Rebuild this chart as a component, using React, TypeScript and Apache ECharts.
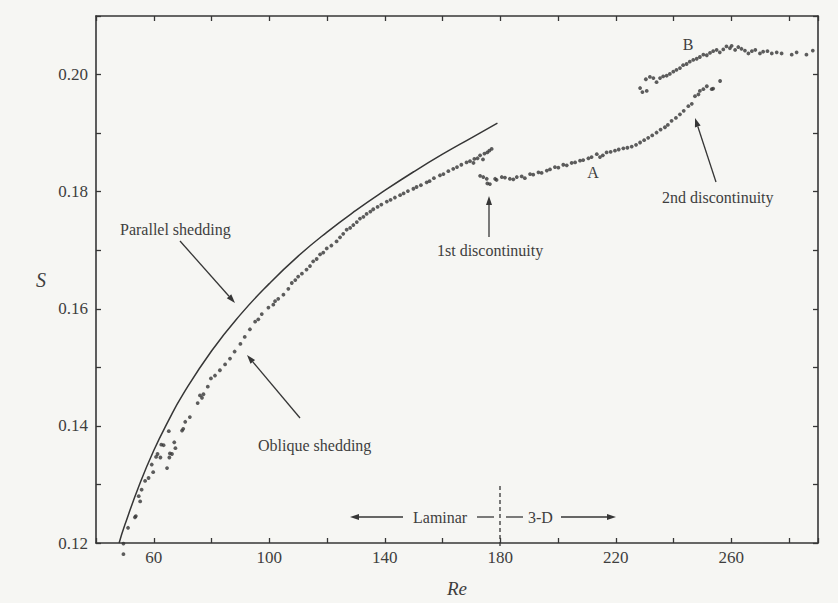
import React, { useEffect, useRef } from "react";
import * as echarts from "echarts";

// Parallel-shedding curve
const parallelCurve: [number, number][] = [
  [48, 0.12], [50, 0.1231], [55, 0.1299], [60, 0.1358], [65, 0.1408], [70, 0.1453],
  [80, 0.1528], [90, 0.159], [100, 0.1643], [110, 0.169], [120, 0.1731], [130, 0.1768],
  [140, 0.1802], [150, 0.1834], [160, 0.1864], [170, 0.1892], [179, 0.1917],
];

// Oblique shedding (laminar regime) measurements
const obliqueData: [number, number][] = [
  [49.5, 0.1199], [49.5, 0.1181], [51.1, 0.1226], [53.5, 0.1244], [53.8, 0.1246],
  [54.8, 0.128], [55.3, 0.1271], [55.8, 0.1291], [57.0, 0.1306], [58.2, 0.1311],
  [59.3, 0.1334], [59.8, 0.1321], [60.8, 0.1347], [61.3, 0.1352], [62.3, 0.1346],
  [62.6, 0.1368], [63.4, 0.1367], [64.6, 0.1328], [65.2, 0.1391], [65.4, 0.1346],
  [65.6, 0.1353], [66.3, 0.1352], [67.1, 0.1372], [67.5, 0.1362], [69.8, 0.1392],
  [70.2, 0.1395], [70.9, 0.1407], [72.5, 0.1415], [75.2, 0.1439], [76.0, 0.1452],
  [76.7, 0.1448], [77.2, 0.1454], [78.7, 0.1467], [79.8, 0.1481], [81.2, 0.1486],
  [82.9, 0.1495], [84.7, 0.1505], [86.4, 0.1515], [88.0, 0.1527], [90.0, 0.154],
  [91.5, 0.1552], [93.3, 0.1565], [95.1, 0.1578], [96.2, 0.1582], [97.4, 0.1591],
  [99.7, 0.1602], [101.4, 0.1607], [102.0, 0.1613], [103.1, 0.1617], [104.9, 0.1624],
  [106.6, 0.1634], [107.8, 0.1644], [109.0, 0.1649], [110.0, 0.1655], [111.3, 0.166],
  [112.9, 0.1667], [114.1, 0.1673], [115.2, 0.1681], [116.4, 0.1685], [117.6, 0.1693],
  [118.7, 0.1696], [119.9, 0.1703], [121.5, 0.1708], [123.3, 0.1715], [124.5, 0.1722],
  [125.6, 0.1728], [126.8, 0.1735], [128.0, 0.1738], [129.1, 0.1743], [130.3, 0.1748],
  [131.4, 0.1754], [132.6, 0.1757], [133.7, 0.1762], [135.0, 0.1766], [136.0, 0.177],
  [137.5, 0.1774], [138.8, 0.1778], [140.7, 0.1783], [142.0, 0.1786], [143.5, 0.179],
  [145.3, 0.1794], [146.5, 0.1797], [148.0, 0.1801], [149.9, 0.1805], [151.0, 0.1808],
  [152.5, 0.1811], [154.5, 0.1816], [155.5, 0.1818], [157.0, 0.1823], [159.1, 0.1828],
  [160.3, 0.183], [162.0, 0.1835], [163.7, 0.1839], [165.0, 0.1842], [166.5, 0.1846],
  [168.3, 0.185], [169.5, 0.1852], [170.7, 0.1849], [171.0, 0.1856], [172.1, 0.1857],
  [173.0, 0.1862], [174.0, 0.1855], [174.5, 0.1865], [175.5, 0.1867], [176.2, 0.187],
  [177.0, 0.1873],
];

// Three-dimensional regime, lower branch (mode A)
const modeAData: [number, number][] = [
  [173.0, 0.1827], [174.1, 0.1825], [175.3, 0.1822], [175.5, 0.1814], [176.4, 0.1813],
  [178.2, 0.1822], [178.7, 0.182], [180.5, 0.1825], [181.6, 0.1824], [183.3, 0.1822],
  [184.5, 0.1821], [185.7, 0.1825], [187.4, 0.1826], [188.5, 0.1823], [190.3, 0.183],
  [191.4, 0.1829], [193.2, 0.1833], [194.3, 0.1832], [196.1, 0.1836], [197.2, 0.1838],
  [198.9, 0.1842], [200.1, 0.1841], [201.8, 0.1846], [203.0, 0.1845], [204.7, 0.1849],
  [205.9, 0.185], [207.6, 0.1853], [208.7, 0.1854], [210.5, 0.1857], [211.6, 0.1859],
  [213.4, 0.1864], [214.5, 0.1859], [215.5, 0.1862], [216.8, 0.1867], [218.2, 0.1868],
  [219.7, 0.187], [221.0, 0.1872], [222.6, 0.1874], [224.0, 0.1875], [225.5, 0.1877],
  [227.0, 0.188], [228.4, 0.1884], [229.8, 0.1888], [231.2, 0.1892], [232.6, 0.1896],
  [234.1, 0.1901], [235.5, 0.1906], [237.0, 0.191], [238.0, 0.1914], [239.3, 0.1921],
  [240.8, 0.1926], [242.2, 0.1932], [243.5, 0.1938], [245.1, 0.1946], [246.3, 0.195],
  [247.4, 0.1963], [248.6, 0.1966], [249.1, 0.1972], [250.3, 0.1975], [251.5, 0.198],
  [253.2, 0.1975], [253.7, 0.1976], [256.1, 0.1989],
];

// Upper branch (mode B)
const modeBData: [number, number][] = [
  [228.4, 0.1977], [229.2, 0.197], [230.4, 0.1992], [230.7, 0.1972], [231.8, 0.1996],
  [233.0, 0.1994], [234.1, 0.1987], [235.3, 0.1994], [236.4, 0.1997], [237.6, 0.1998],
  [238.7, 0.2001], [239.9, 0.2005], [241.0, 0.2008], [242.2, 0.2011], [243.3, 0.2016],
  [244.5, 0.2018], [245.6, 0.2022], [246.8, 0.2025], [248.0, 0.2027], [249.1, 0.203],
  [250.3, 0.2034], [251.5, 0.2033], [252.6, 0.2037], [253.7, 0.204], [254.9, 0.2042],
  [256.0, 0.2038], [257.2, 0.2043], [258.3, 0.2048], [259.5, 0.2045], [260.1, 0.2049],
  [261.3, 0.2042], [262.4, 0.2047], [263.5, 0.2044], [264.7, 0.2041], [265.9, 0.2036],
  [267.1, 0.204], [268.3, 0.2042], [269.9, 0.2036], [271.0, 0.2039], [272.5, 0.204],
  [274.0, 0.2036], [275.7, 0.2038], [277.4, 0.2036], [280.9, 0.2034], [282.6, 0.2038],
  [286.0, 0.2034], [288.2, 0.2041],
];

const xTickLabels = [60, 100, 140, 180, 220, 260];
const yTickLabels = [0.12, 0.14, 0.16, 0.18, 0.2];

const INK = "#363636";
const TEXT = "#3e3e3e";
const FONT = "'Liberation Serif', 'Times New Roman', serif";

function arrow(x1: number, y1: number, x2: number, y2: number) {
  const ang = Math.atan2(y2 - y1, x2 - x1);
  const L = 9;
  const W = 3;
  const bx = x2 - L * Math.cos(ang);
  const by = y2 - L * Math.sin(ang);
  const px = -Math.sin(ang) * W;
  const py = Math.cos(ang) * W;
  return [
    { type: "line", silent: true, shape: { x1, y1, x2: bx, y2: by }, style: { stroke: INK, lineWidth: 1.3 } },
    { type: "polygon", silent: true, shape: { points: [[x2, y2], [bx + px, by + py], [bx - px, by - py]] }, style: { fill: INK } },
  ];
}

function label(text: string, x: number, y: number, align: string = "left") {
  return {
    type: "text",
    silent: true,
    x,
    y,
    style: { text, fill: TEXT, font: `16px ${FONT}`, align, verticalAlign: "middle" },
  };
}

function seg(x1: number, y1: number, x2: number, y2: number, dashed = false) {
  return {
    type: "line",
    silent: true,
    shape: { x1, y1, x2, y2 },
    style: { stroke: INK, lineWidth: 1.3, lineDash: dashed ? [4, 3] : null },
  };
}

export default function App() {
  const ref = useRef<HTMLDivElement>(null);
  useEffect(() => {
    if (!ref.current) return;
    const chart = echarts.init(ref.current, null, { renderer: "svg" });
    const isYLabel = (v: number) => yTickLabels.some((t) => Math.abs(t - v) < 1e-6);
    const axisCommon = {
      axisLine: { show: true, onZero: false, lineStyle: { color: INK, width: 1.6 } },
      axisTick: { show: true, inside: true, length: 5, lineStyle: { color: INK, width: 1.3 } },
      splitLine: { show: false },
    };
    const xBase = { type: "value", min: 40, max: 290, interval: 20, ...axisCommon };
    const yBase = { type: "value", min: 0.12, max: 0.21, interval: 0.01, ...axisCommon };
    chart.setOption({
      animation: false,
      backgroundColor: "#f6f6f3",
      grid: { left: 96, right: 20, top: 16, bottom: 56 },
      xAxis: [
        {
          ...xBase,
          position: "bottom",
          name: "Re",
          nameLocation: "middle",
          nameGap: 36,
          nameTextStyle: { fontFamily: FONT, fontStyle: "italic", fontSize: 19, color: TEXT },
          axisLabel: {
            show: true,
            margin: 6,
            fontFamily: FONT,
            fontSize: 17,
            color: TEXT,
            formatter: (v: number) => (xTickLabels.includes(Math.round(v)) ? String(Math.round(v)) : ""),
          },
        },
        { ...xBase, position: "top", axisLabel: { show: false } },
      ],
      yAxis: [
        {
          ...yBase,
          position: "left",
          name: "S",
          nameLocation: "middle",
          nameGap: 50,
          nameRotate: 0,
          nameTextStyle: { fontFamily: FONT, fontStyle: "italic", fontSize: 20, color: TEXT },
          axisLabel: {
            show: true,
            margin: 8,
            fontFamily: FONT,
            fontSize: 17,
            color: TEXT,
            formatter: (v: number) => (isYLabel(v) ? v.toFixed(2) : ""),
          },
        },
        { ...yBase, position: "right", axisLabel: { show: false } },
      ],
      series: [
        {
          name: "Parallel shedding",
          type: "line",
          data: parallelCurve,
          smooth: true,
          showSymbol: false,
          symbol: "none",
          lineStyle: { color: INK, width: 1.5 },
        },
        {
          name: "Oblique shedding",
          type: "scatter",
          data: obliqueData,
          clip: false,
          symbolSize: 3.8,
          itemStyle: { color: INK },
        },
        {
          name: "Mode A",
          type: "scatter",
          data: modeAData,
          symbolSize: 3.8,
          itemStyle: { color: INK },
        },
        {
          name: "Mode B",
          type: "scatter",
          data: modeBData,
          symbolSize: 3.8,
          itemStyle: { color: INK },
        },
      ],
      graphic: [
        label("Parallel shedding", 120, 229),
        ...arrow(180, 241, 235, 303),
        label("Oblique shedding", 258, 445),
        ...arrow(300, 418, 247, 355),
        label("1st discontinuity", 437, 250),
        ...arrow(489, 237, 489, 196),
        label("A", 593, 172, "center"),
        label("B", 688, 44, "center"),
        label("2nd discontinuity", 662, 197),
        ...arrow(716, 182, 695, 118),
        ...arrow(403, 517, 350, 517),
        label("Laminar", 413, 517),
        seg(477, 517, 494, 517),
        seg(500, 486, 500, 547, true),
        seg(506, 517, 523, 517),
        label("3-D", 528, 517),
        ...arrow(561, 517, 616, 517),
      ],
    });
    return () => chart.dispose();
  }, []);
  return (
    <div
      ref={ref}
      style={{ position: "absolute", left: 0, top: 0, width: 838, height: 603 }}
    />
  );
}
